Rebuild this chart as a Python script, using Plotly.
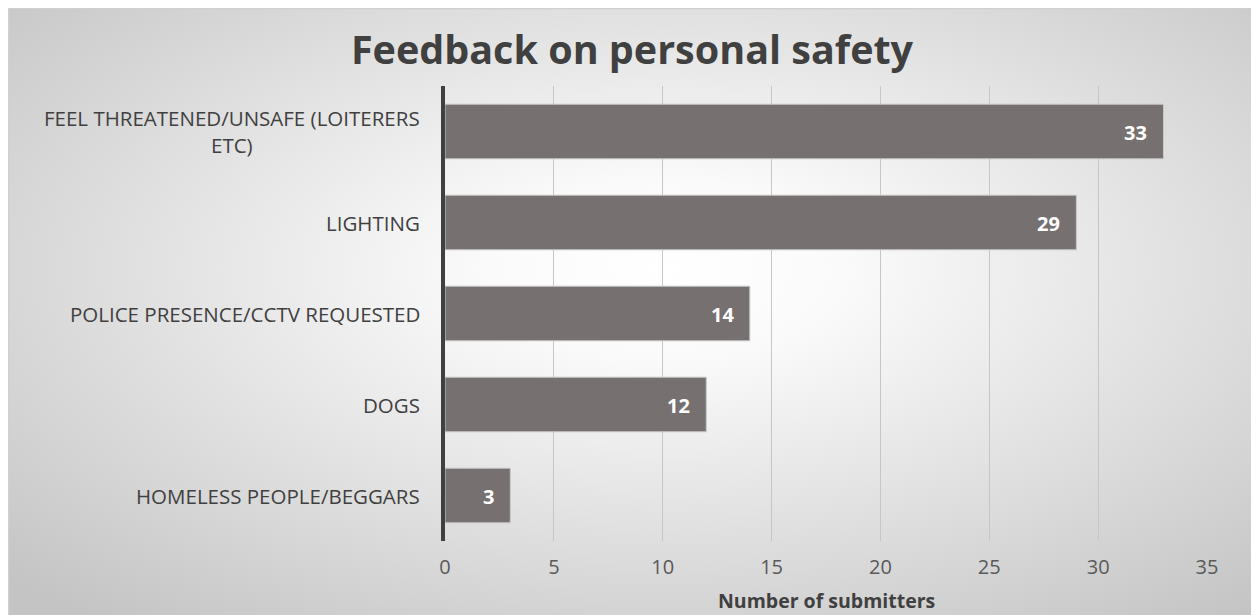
import base64
import plotly.graph_objects as go

categories = ["FEEL THREATENED/UNSAFE (LOITERERS<br>ETC)", "LIGHTING",
              "POLICE PRESENCE/CCTV REQUESTED", "DOGS", "HOMELESS PEOPLE/BEGGARS"]
values = [33, 29, 14, 12, 3]
x_ticks = [0, 5, 10, 15, 20, 25, 30, 35]
title_text = "Feedback on personal safety"
x_title = "Number of submitters"

OFF = 8  # page body margin
W, H = 1259, 615
L, R, T, B = 437, 60, 78, 82
pw, ph = W - L - R, H - T - B

def px_x(p):  # screen pixel -> paper x
    return (p - OFF - L) / pw

def px_y(p):  # screen pixel -> paper y
    return 1 - (p - OFF - T) / ph

svg = ("<svg xmlns='http://www.w3.org/2000/svg' width='1260' height='620' preserveAspectRatio='none'>"
       "<defs><radialGradient id='g' cx='52%' cy='42%' r='72%'>"
       "<stop offset='0' stop-color='#ffffff'/><stop offset='0.2' stop-color='#fafafa'/>"
       "<stop offset='1' stop-color='#c4c4c4'/></radialGradient></defs>"
       "<rect width='100%' height='100%' fill='url(#g)'/></svg>")
src = "data:image/svg+xml;base64," + base64.b64encode(svg.encode()).decode()

fig = go.Figure()
fig.add_trace(go.Bar(
    x=values, y=categories, orientation="h", width=0.6,
    marker=dict(color="#767070", line=dict(color="#c8c8c8", width=1)),
    hoverinfo="skip",
))

annotations = []
for c, v in zip(categories, values):
    annotations.append(dict(text=c, x=px_x(422), y=c, xref="paper", yref="y",
                            xanchor="right", yanchor="middle", align="center",
                            showarrow=False,
                            font=dict(family="Open Sans", size=20.5, color="#404040")))
    annotations.append(dict(text="<b>%d</b>" % v, x=v, y=c, xref="x", yref="y",
                            xanchor="right", yanchor="middle", xshift=-14, yshift=-1,
                            showarrow=False,
                            font=dict(family="Open Sans", size=20, color="white")))
annotations.append(dict(text="<b>" + x_title + "</b>", x=px_x(826), y=px_y(600), xref="paper",
                        yref="paper", xanchor="center", yanchor="middle", showarrow=False,
                        font=dict(family="Open Sans", size=19.5, color="#404040")))

fig.update_layout(
    width=W, height=H,
    margin=dict(l=L, r=R, t=T, b=B),
    paper_bgcolor="white", plot_bgcolor="rgba(0,0,0,0)",
    showlegend=False,
    title=dict(text="<b>" + title_text + "</b>", x=(632 - OFF) / W, xanchor="center",
               y=1 - (50 - OFF) / H, yanchor="middle", yref="container",
               font=dict(family="Open Sans", size=39.5, color="#404040")),
    xaxis=dict(range=[0, 35], tickvals=x_ticks, showgrid=True, gridcolor="#c6c6c6",
               gridwidth=1.2, zeroline=False, showline=False,
               tickfont=dict(family="Open Sans", size=20, color="#595959"),
               ticks="outside", ticklen=0, ticklabelstandoff=8),
    yaxis=dict(autorange="reversed", showticklabels=False, showgrid=False,
               showline=True, linecolor="#404040", linewidth=4, zeroline=False),
    annotations=annotations,
    images=[dict(source=src, xref="paper", yref="paper", x=px_x(8), y=px_y(8),
                 sizex=px_x(1270) - px_x(8), sizey=px_y(8) - px_y(630),
                 xanchor="left", yanchor="top", sizing="stretch", layer="below")],
    shapes=[dict(type="rect", xref="paper", yref="paper", x0=px_x(8.5), x1=px_x(1255),
                 y0=px_y(640), y1=px_y(8.5), line=dict(color="#d0d0d0", width=1.5),
                 layer="below")],
)

fig.write_html("out.html")
